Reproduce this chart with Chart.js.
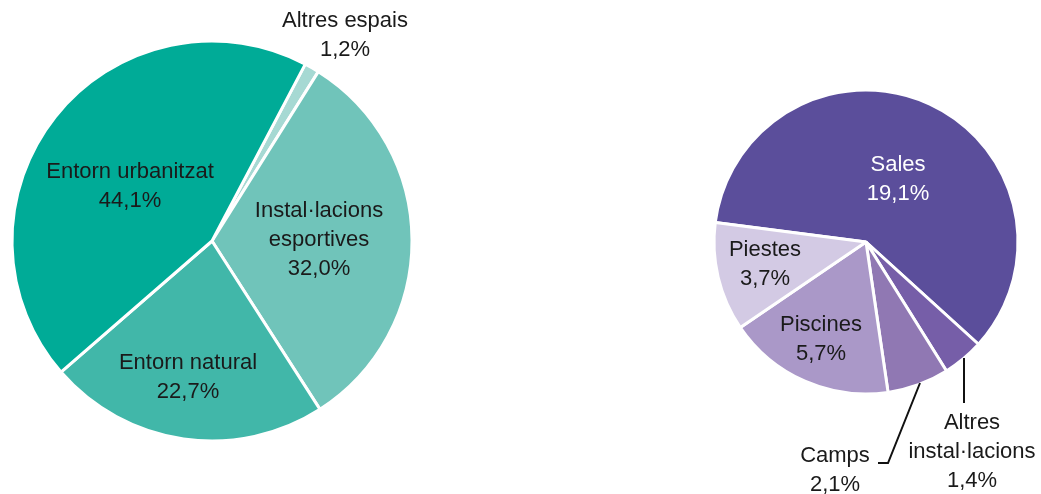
<!DOCTYPE html>
<html lang="ca">
<head>
    <meta charset="UTF-8">
    <title>Espais de pràctica esportiva</title>
    <script src="https://cdn.jsdelivr.net/npm/chart.js"></script>
    <style>
        body { margin: 0; background: #fff; }
        .wrap { position: absolute; left: 0; top: 0; width: 1041px; height: 494px; pointer-events: none; }
    </style>
</head>
<body>
    <div class="wrap"><canvas id="leftChart"></canvas></div>
    <div class="wrap"><canvas id="rightChart"></canvas></div>

    <script>
        // Left pie: where the activity happens
        var leftLabels = ['Altres espais', 'Instal·lacions esportives', 'Entorn natural', 'Entorn urbanitzat'];
        var leftValues = [1.2, 32.0, 22.7, 44.1];
        var leftColors = ['#a6d9d3', '#70c4ba', '#41b7a9', '#00ab97'];

        // Right pie: breakdown of the sports facilities
        var rightLabels = ['Sales', 'Altres instal·lacions', 'Camps', 'Piscines', 'Piestes'];
        var rightValues = [19.1, 1.4, 2.1, 5.7, 3.7];
        var rightColors = ['#5b4e9b', '#765ea8', '#9078b3', '#aa98c8', '#d3cae4'];

        var FONT = '22px "Liberation Sans", Arial, sans-serif';

        // label text lines, placed relative to the pie centre (dx, dy = baseline of first line)
        var leftText = [
            { lines: ['Altres espais', '1,2%'], dx: 133, dy: -214, color: '#1a1a1a' },
            { lines: ['Instal·lacions', 'esportives', '32,0%'], dx: 107, dy: -24, color: '#1a1a1a' },
            { lines: ['Entorn natural', '22,7%'], dx: -24, dy: 128, color: '#1a1a1a' },
            { lines: ['Entorn urbanitzat', '44,1%'], dx: -82, dy: -63, color: '#1a1a1a' }
        ];
        var rightText = [
            { lines: ['Sales', '19,1%'], dx: 32, dy: -71, color: '#ffffff' },
            { lines: ['Altres', 'instal·lacions', '1,4%'], dx: 106, dy: 187, color: '#1a1a1a' },
            { lines: ['Camps', '2,1%'], dx: -31, dy: 220, color: '#1a1a1a' },
            { lines: ['Piscines', '5,7%'], dx: -45, dy: 89, color: '#1a1a1a' },
            { lines: ['Piestes', '3,7%'], dx: -101, dy: 14, color: '#1a1a1a' }
        ];
        // leader lines for the small slices, relative to the pie centre
        var rightLeaders = [
            [[98, 116], [98, 161]],
            [[54, 141], [22, 221], [12, 221]]
        ];

        var textPlugin = {
            id: 'sliceText',
            afterDatasetsDraw: function (chart, args, opts) {
                var arc = chart.getDatasetMeta(0).data[0];
                var cx = arc.x, cy = arc.y;
                var ctx = chart.ctx;
                ctx.save();
                ctx.strokeStyle = '#111';
                ctx.lineWidth = 2;
                (opts.leaders || []).forEach(function (pts) {
                    ctx.beginPath();
                    pts.forEach(function (p, i) {
                        if (i === 0) ctx.moveTo(cx + p[0], cy + p[1]);
                        else ctx.lineTo(cx + p[0], cy + p[1]);
                    });
                    ctx.stroke();
                });
                ctx.font = FONT;
                ctx.textAlign = 'center';
                ctx.textBaseline = 'alphabetic';
                opts.items.forEach(function (it) {
                    ctx.fillStyle = it.color;
                    it.lines.forEach(function (line, i) {
                        ctx.fillText(line, cx + it.dx, cy + it.dy + i * 29);
                    });
                });
                ctx.restore();
            }
        };

        function makePie(id, labels, values, colors, radius, rotation, padding, items, leaders) {
            return new Chart(document.getElementById(id), {
                type: 'pie',
                data: {
                    labels: labels,
                    datasets: [{
                        data: values,
                        backgroundColor: colors,
                        borderColor: '#ffffff',
                        borderWidth: 3,
                        radius: radius
                    }]
                },
                options: {
                    responsive: true,
                    maintainAspectRatio: false,
                    animation: false,
                    events: [],
                    rotation: rotation,
                    layout: { padding: padding },
                    plugins: {
                        legend: { display: false },
                        tooltip: { enabled: false },
                        sliceText: { items: items, leaders: leaders }
                    }
                },
                plugins: [textPlugin]
            });
        }

        makePie('leftChart', leftLabels, leftValues, leftColors, 200, 27.8,
            { left: 12, right: 629, top: 41, bottom: 53 }, leftText, []);
        makePie('rightChart', rightLabels, rightValues, rightColors, 152, 277.4,
            { left: 714, right: 23, top: 90, bottom: 100 }, rightText, rightLeaders);
    </script>
</body>
</html>
